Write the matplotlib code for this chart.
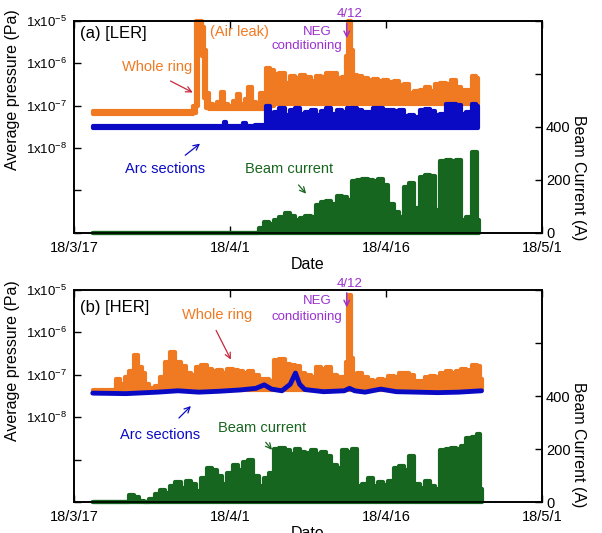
import numpy as np
import matplotlib
matplotlib.use('Agg')
from matplotlib import pyplot
from matplotlib import ticker

pyplot.rcParams['font.family'] = ['Liberation Sans', 'DejaVu Sans']
pyplot.rcParams['mathtext.default'] = 'regular'

ORANGE = '#f07a22'
BLUE = '#0a0ac4'
GREEN = '#17661f'
PURPLE = '#9b30d0'
RED = '#c8283c'

start = np.datetime64('2018-03-17')
date_ticks = ['2018-03-17', '2018-04-01', '2018-04-16', '2018-05-01']
date_labels = ['18/3/17', '18/4/1', '18/4/16', '18/5/1']
p_ticks = [1e-5, 1e-6, 1e-7, 1e-8, 1e-9, 1e-10]
p_labels = ['1x10$^{-5}$', '1x10$^{-6}$', '1x10$^{-7}$', '1x10$^{-8}$', '', '']
i_ticks = [0, 200, 400, 600, 800]
i_labels = ['0', '200', '400', '', '']

# ---- LER (days after 18/3/17) ----
ler_ring_t = [1.8, 11.3, 11.6, 11.8, 12.0, 12.2, 12.4, 12.6, 12.8, 13.1,
              13.6, 14.0, 14.3, 14.6, 15.1, 15.5, 15.8, 16.2, 16.6, 16.9,
              17.3, 17.7, 18.0, 18.3, 18.7, 19.0, 19.5, 20.0, 20.5, 21.0,
              21.5, 22.0, 22.5, 23.0, 23.5, 24.0, 24.5, 25.0, 25.5, 26.0,
              26.3, 26.5, 26.7, 27.0, 27.5, 28.0, 28.5, 29.0, 29.5, 30.0,
              30.5, 31.0, 31.5, 32.0, 32.5, 33.0, 33.5, 34.0, 34.5, 35.0,
              35.5, 36.0, 36.5, 37.0, 37.5, 38.0, 38.5, 38.9]
ler_ring_hi = [7.6e-8, 7.6e-8, 1.0e-7, 1e-5, 1e-5, 1e-5, 7e-6, 2e-6, 2e-7, 1.1e-7,
               1.0e-7, 1.2e-7, 2.1e-7, 1.1e-7, 1.0e-7, 1.3e-7, 1.9e-7, 1.1e-7, 1.4e-7, 2.8e-7,
               1.2e-7, 1.1e-7, 2.0e-7, 1.1e-7, 7.7e-7, 7e-7, 5.5e-7, 5.8e-7, 3.5e-7, 5e-7,
               4.5e-7, 5.2e-7, 4.8e-7, 3.8e-7, 5e-7, 4.8e-7, 5.8e-7, 6e-7, 4.6e-7, 4.8e-7,
               1.5e-6, 1e-5, 2e-6, 5.3e-7, 5e-7, 4.5e-7, 4e-7, 4.2e-7, 3.8e-7, 4e-7,
               3.6e-7, 3.8e-7, 3e-7, 3.2e-7, 2e-7, 2.2e-7, 2.4e-7, 2.8e-7, 2.2e-7, 3.3e-7,
               3.4e-7, 3.2e-7, 4e-7, 2.8e-7, 2.4e-7, 2.3e-7, 5e-7, 4.5e-7]
ler_ring_lo = [6.4e-8, 6.4e-8, 6.8e-8, 1e-7, 2.5e-6, 3e-6, 1.5e-6, 1.5e-7, 9e-8, 8.5e-8,
               8.5e-8, 8.5e-8, 8.5e-8, 8.5e-8, 8.5e-8, 8.5e-8, 8.5e-8, 8.5e-8, 8.5e-8, 8.5e-8,
               8.5e-8, 8.5e-8, 8.5e-8, 8.5e-8, 1e-7, 1e-7, 1.1e-7, 1.1e-7, 1.1e-7, 1.1e-7,
               1.1e-7, 1.1e-7, 1.1e-7, 1.1e-7, 1.1e-7, 1.1e-7, 1.1e-7, 1.1e-7, 1.1e-7, 1.1e-7,
               1.1e-7, 1.2e-7, 1.1e-7, 1.1e-7, 1.1e-7, 1.1e-7, 1.1e-7, 1.1e-7, 1.1e-7, 1.1e-7,
               1.1e-7, 1.1e-7, 1.1e-7, 1.1e-7, 1.1e-7, 1.1e-7, 1.1e-7, 1.1e-7, 1.1e-7, 1.1e-7,
               1.1e-7, 1.1e-7, 1.1e-7, 1.1e-7, 1.1e-7, 1.1e-7, 1.1e-7, 1.1e-7]

ler_arc_t = [1.8, 14.3, 14.5, 14.7, 16.2, 16.4, 16.6, 18.3, 18.7, 19.0,
             19.5, 20.0, 20.5, 21.0, 21.5, 22.0, 22.5, 23.0, 23.5, 24.0,
             24.5, 25.0, 25.5, 26.0, 26.5, 27.0, 27.5, 28.0, 28.5, 29.0,
             29.5, 30.0, 30.5, 31.0, 31.5, 32.0, 32.5, 33.0, 33.5, 34.0,
             34.5, 35.0, 35.5, 36.0, 36.5, 37.0, 37.5, 38.0, 38.5, 38.9]
ler_arc_hi = [3.4e-8, 3.4e-8, 4.2e-8, 3.4e-8, 3.4e-8, 3.9e-8, 3.4e-8, 3.5e-8, 1e-7, 6e-8,
              7e-8, 9e-8, 6e-8, 8e-8, 9e-8, 6.5e-8, 7e-8, 8e-8, 6e-8, 7.5e-8,
              9e-8, 6.5e-8, 8e-8, 7e-8, 9e-8, 9e-8, 8e-8, 7e-8, 7e-8, 9e-8,
              9e-8, 8e-8, 8e-8, 7.5e-8, 8e-8, 5.8e-8, 6e-8, 5.5e-8, 8e-8, 8.5e-8,
              7.5e-8, 6e-8, 6.5e-8, 1.1e-7, 1.1e-7, 1.05e-7, 6.5e-8, 7e-8, 1.1e-7, 1e-7]
ler_arc_lo = 3.0e-8

ler_beam_t = [1.8, 17.5, 18.0, 18.5, 19.0, 19.5, 20.0, 20.5, 21.0, 21.5,
              22.0, 22.5, 23.0, 23.5, 24.0, 24.5, 25.0, 25.5, 26.0, 26.5,
              27.0, 27.5, 28.0, 28.5, 29.0, 29.5, 30.0, 30.5, 31.0, 31.5,
              32.0, 32.5, 33.0, 33.5, 34.0, 34.5, 35.0, 35.5, 36.0, 36.5,
              37.0, 37.5, 38.0, 38.5, 39.0]
ler_beam = [0, 0, 20, 40, 35, 50, 60, 75, 65, 50,
            55, 65, 60, 105, 115, 120, 110, 140, 135, 125,
            195, 200, 205, 200, 195, 205, 180, 110, 80, 60,
            175, 190, 95, 210, 220, 215, 85, 270, 275, 270,
            275, 50, 60, 305, 50]

# ---- HER ----
her_ring_t = [1.8, 3.8, 4.2, 4.7, 5.1, 5.5, 6.0, 6.3, 6.7, 7.0,
              7.5, 8.0, 8.5, 9.0, 9.5, 10.0, 10.5, 11.0, 11.5, 12.0,
              12.5, 13.0, 13.5, 14.0, 14.5, 15.0, 15.5, 16.0, 16.5, 17.0,
              17.5, 18.0, 18.5, 19.0, 19.5, 20.0, 20.5, 21.0, 21.5, 22.0,
              22.5, 23.0, 23.5, 24.0, 24.5, 25.0, 25.5, 26.0, 26.3, 26.5,
              26.7, 27.0, 27.5, 28.0, 28.5, 29.0, 29.5, 30.0, 30.5, 31.0,
              31.5, 32.0, 32.5, 33.0, 33.5, 34.0, 34.5, 35.0, 35.5, 36.0,
              36.5, 37.0, 37.5, 38.0, 38.5, 39.0, 39.2]
her_ring_hi = [4.0e-8, 4.2e-8, 8e-8, 6e-8, 9e-8, 1.2e-7, 3e-7, 1.5e-7, 1.1e-7, 6e-8,
               5e-8, 5.5e-8, 9e-8, 2e-7, 3.5e-7, 2e-7, 1.6e-7, 1.1e-7, 1e-7, 1.5e-7,
               1.7e-7, 1.4e-7, 1.2e-7, 1.3e-7, 1.1e-7, 1.4e-7, 1.3e-7, 1.2e-7, 1.1e-7, 1.2e-7,
               1e-7, 8e-8, 8e-8, 7e-8, 2.2e-7, 2.3e-7, 1.8e-7, 1.7e-7, 1.6e-7, 1.1e-7,
               1e-7, 9e-8, 1.5e-7, 1.4e-7, 1.5e-7, 1e-7, 9e-8, 9e-8, 2e-7, 7.6e-6,
               2.5e-7, 1e-7, 1.1e-7, 9e-8, 7.5e-8, 7e-8, 8e-8, 7.5e-8, 9.5e-8, 9e-8,
               1.1e-7, 1.1e-7, 1e-7, 7e-8, 7e-8, 9e-8, 9.5e-8, 9e-8, 1.1e-7, 1.2e-7,
               1.1e-7, 1.2e-7, 1.4e-7, 1.3e-7, 1.7e-7, 1.6e-7, 8e-8]
her_ring_lo = 4.5e-8

her_arc_t = [1.8, 5.0, 8.0, 10.0, 12.0, 14.0, 16.0, 17.5, 18.3, 19.0,
             20.0, 20.8, 21.3, 21.7, 22.2, 24.0, 26.0, 26.5, 27.0, 28.0,
             29.5, 31.0, 33.0, 35.0, 37.0, 39.2]
her_arc = [3.7e-8, 3.6e-8, 3.9e-8, 4.2e-8, 3.9e-8, 4.1e-8, 4.4e-8, 4.8e-8, 5.8e-8, 4.6e-8,
           4.2e-8, 6e-8, 1.1e-7, 6e-8, 4.5e-8, 4.0e-8, 4.2e-8, 4.8e-8, 4.2e-8, 3.9e-8,
           4.6e-8, 4.0e-8, 3.9e-8, 3.8e-8, 3.9e-8, 4.2e-8]

her_beam_t = [1.8, 5.0, 5.5, 6.0, 6.5, 7.0, 7.5, 8.0, 8.5, 9.0,
              9.5, 10.0, 10.5, 11.0, 11.5, 12.0, 12.5, 13.0, 13.5, 14.0,
              14.5, 15.0, 15.5, 16.0, 16.5, 17.0, 17.5, 18.0, 18.5, 19.0,
              19.5, 20.0, 20.5, 21.0, 21.5, 22.0, 22.5, 23.0, 23.5, 24.0,
              24.5, 25.0, 25.5, 26.0, 26.5, 27.0, 27.5, 28.0, 28.5, 29.0,
              29.5, 30.0, 30.5, 31.0, 31.5, 32.0, 32.5, 33.0, 33.5, 34.0,
              34.5, 35.0, 35.5, 36.0, 36.5, 37.0, 37.5, 38.0, 38.5, 39.0,
              39.2]
her_beam = [0, 0, 25, 20, 5, 0, 10, 30, 45, 35,
            60, 75, 55, 80, 70, 40, 90, 130, 120, 100,
            70, 110, 140, 120, 150, 160, 100, 60, 90, 110,
            200, 205, 195, 180, 200, 190, 185, 195, 180, 190,
            175, 140, 130, 195, 190, 200, 60, 70, 90, 60,
            75, 65, 80, 130, 135, 120, 175, 70, 55, 80,
            60, 50, 195, 200, 205, 200, 210, 240, 245, 255,
            50]


def Days(t):
    return start + (np.array(t) * 1440).astype('timedelta64[m]')


def Band(ax, t, lo, hi, color, z):
    poly = ax.fill_between(Days(t), lo, hi, step='mid', color=color, lw=3,
                           zorder=z, clip_on=False)
    poly.set_joinstyle('round')


def Frame(ax, ax2):
    ax.set_yscale('log')
    ax.set_ylim(1e-10, 1e-5)
    ax.set_yticks(p_ticks)
    ax.set_yticklabels(p_labels, fontsize=9.5)
    ax.yaxis.set_minor_locator(ticker.NullLocator())
    ax.set_xlim(np.datetime64(date_ticks[0]), np.datetime64(date_ticks[-1]))
    ax.set_xticks([np.datetime64(d) for d in date_ticks])
    ax.set_xticklabels(date_labels, fontsize=10.5)
    ax.tick_params(direction='in', length=5, width=1, top=True, pad=6)
    ax.tick_params(axis='y', pad=5)
    ax.set_xlabel('Date', fontsize=11.5, labelpad=1)
    ax.set_ylabel('Average pressure (Pa)', fontsize=11.5)
    ax2.set_ylim(0, 800)
    ax2.set_yticks(i_ticks)
    ax2.set_yticklabels(i_labels, fontsize=10.5)
    ax2.tick_params(direction='in', length=5, width=1, pad=3)
    ax2.set_ylabel('Beam Current (A)', fontsize=11.5, rotation=270)
    for a in (ax, ax2):
        for s in a.spines.values():
            s.set_linewidth(1.2)


fig = pyplot.figure(figsize=(6.02, 5.33), dpi=100)

# (a) LER
ax = fig.add_axes([0.123, 0.563, 0.777, 0.398])
ax2 = ax.twinx()
Band(ax, ler_ring_t, ler_ring_lo, ler_ring_hi, ORANGE, 2)
Band(ax, ler_arc_t, ler_arc_lo, ler_arc_hi, BLUE, 3)
Band(ax2, ler_beam_t, 0, ler_beam, GREEN, 2)
Frame(ax, ax2)
ax.yaxis.set_label_coords(-0.115, 0.675)
ax2.yaxis.set_label_coords(1.095, 0.26)
tr = ax.transAxes
ax.text(0.013, 0.939, '(a) [LER]', transform=tr, fontsize=12, va='center')
ax.text(0.29, 0.948, '(Air leak)', transform=tr, fontsize=10.5, va='center', color=ORANGE)
ax.text(0.103, 0.783, 'Whole ring', transform=tr, fontsize=10.5, va='center', color=ORANGE)
ax.annotate('', xy=(0.259, 0.656), xytext=(0.201, 0.722), xycoords=tr,
            arrowprops=dict(arrowstyle='->', color=RED, lw=0.9))
ax.text(0.109, 0.302, 'Arc sections', transform=tr, fontsize=10.5, va='center', color=BLUE)
ax.annotate('', xy=(0.274, 0.429), xytext=(0.233, 0.358), xycoords=tr,
            arrowprops=dict(arrowstyle='->', color=BLUE, lw=0.9))
ax.text(0.365, 0.302, 'Beam current', transform=tr, fontsize=10.5, va='center', color=GREEN)
ax.annotate('', xy=(0.5, 0.175), xytext=(0.476, 0.236), xycoords=tr,
            arrowprops=dict(arrowstyle='->', color=GREEN, lw=0.9))
ax.text(0.519, 0.948, 'NEG', transform=tr, fontsize=9.5, ha='center', va='center', color=PURPLE)
ax.text(0.498, 0.882, 'conditioning', transform=tr, fontsize=9.5, ha='center', va='center', color=PURPLE)
ax.text(0.590, 1.03, '4/12', transform=tr, fontsize=9.5, ha='center', va='center', color=PURPLE)
ax.annotate('', xy=(0.583, 0.905), xytext=(0.583, 1.0), xycoords=tr,
            arrowprops=dict(arrowstyle='->', color=PURPLE, lw=1.0))

# (b) HER
bx = fig.add_axes([0.123, 0.058, 0.777, 0.398])
bx2 = bx.twinx()
Band(bx, her_ring_t, her_ring_lo, her_ring_hi, ORANGE, 2)
bx.plot(Days(her_arc_t), her_arc, color=BLUE, lw=3.5, zorder=3,
        solid_capstyle='round')
Band(bx2, her_beam_t, 0, her_beam, GREEN, 2)
Frame(bx, bx2)
bx.yaxis.set_label_coords(-0.115, 0.665)
bx2.yaxis.set_label_coords(1.095, 0.27)
tr = bx.transAxes
bx.text(0.013, 0.915, '(b) [HER]', transform=tr, fontsize=12, va='center')
bx.text(0.231, 0.882, 'Whole ring', transform=tr, fontsize=10.5, va='center', color=ORANGE)
bx.annotate('', xy=(0.338, 0.66), xytext=(0.301, 0.821), xycoords=tr,
            arrowprops=dict(arrowstyle='->', color=RED, lw=0.9))
bx.text(0.098, 0.316, 'Arc sections', transform=tr, fontsize=10.5, va='center', color=BLUE)
bx.annotate('', xy=(0.254, 0.462), xytext=(0.22, 0.387), xycoords=tr,
            arrowprops=dict(arrowstyle='->', color=BLUE, lw=0.9))
bx.text(0.308, 0.349, 'Beam current', transform=tr, fontsize=10.5, va='center', color=GREEN)
bx.annotate('', xy=(0.427, 0.236), xytext=(0.406, 0.292), xycoords=tr,
            arrowprops=dict(arrowstyle='->', color=GREEN, lw=0.9))
bx.text(0.519, 0.948, 'NEG', transform=tr, fontsize=9.5, ha='center', va='center', color=PURPLE)
bx.text(0.498, 0.873, 'conditioning', transform=tr, fontsize=9.5, ha='center', va='center', color=PURPLE)
bx.text(0.590, 1.03, '4/12', transform=tr, fontsize=9.5, ha='center', va='center', color=PURPLE)
bx.annotate('', xy=(0.583, 0.905), xytext=(0.583, 1.0), xycoords=tr,
            arrowprops=dict(arrowstyle='->', color=PURPLE, lw=1.0))

fig.savefig('out.png', dpi=100)
